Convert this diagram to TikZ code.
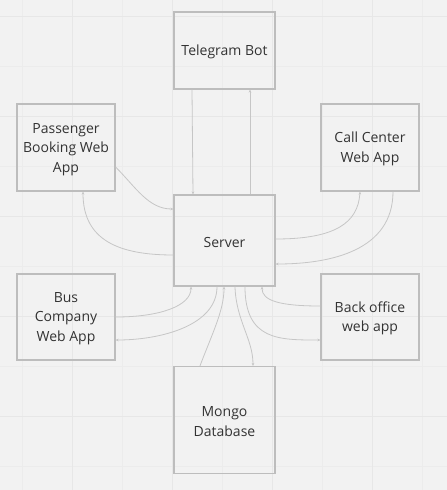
\documentclass[tikz,border=0pt]{standalone}
\usepackage{fontspec}
\setmainfont{Open Sans}
\usetikzlibrary{arrows.meta}
\definecolor{bgc}{HTML}{F2F2F2}
\definecolor{minorg}{HTML}{ECECEC}
\definecolor{majorg}{HTML}{E7E7E7}
\definecolor{boxc}{HTML}{BDBDBD}
\definecolor{linec}{HTML}{C6C6C6}
\definecolor{txt}{HTML}{333333}
\begin{document}
\begin{tikzpicture}[x=1pt,y=-1pt,
  box/.style={draw=boxc, line width=1.2pt, inner sep=0pt},
  lbl/.style={align=center, text=txt, font=\fontsize{14}{19.5}\selectfont, inner sep=0pt},
  conn/.style={draw=linec, line width=0.8pt, -{Stealth[length=3pt,width=2.6pt]}},
  gminor/.style={draw=minorg, line width=0.8pt},
  gmajor/.style={draw=majorg, line width=1pt}]
\fill[bgc] (0,0) rectangle (447,490);
\useasboundingbox (0,0) rectangle (447,490);
% grid
\foreach \x in {22,122,222,322,422} \draw[gminor] (\x,0) -- (\x,490);
\foreach \y in {66,166,266,366,466} \draw[gminor] (0,\y) -- (447,\y);
\foreach \x in {72,172,272,372} \draw[gmajor] (\x,0) -- (\x,490);
\foreach \y in {16,116,216,316,416} \draw[gmajor] (0,\y) -- (447,\y);
% nodes
\node[box, minimum width=101pt, minimum height=77pt] (t) at (224.5,50.5) {};
\node[box, minimum width=101pt, minimum height=91pt] (s) at (224.5,240.5) {};
\node[box, minimum width=98pt, minimum height=87pt] (p) at (66,147.5) {};
\node[box, minimum width=98pt, minimum height=87pt] (c) at (370,147.5) {};
\node[box, minimum width=98pt, minimum height=86pt] (b) at (66,317) {};
\node[box, minimum width=98pt, minimum height=86pt] (o) at (370,317) {};
\node[box, minimum width=101pt, minimum height=107pt] (m) at (224.5,420) {};
% labels
\node[lbl] (tl) at ([yshift=-1.5pt]t.center) {Telegram Bot};
\node[lbl] (sl) at ([yshift=-1.5pt]s.center) {Server};
\node[lbl] (pl) at ([yshift=-1.8pt]p.center) {Passenger\\Booking Web\\App};
\node[lbl] (cl) at ([yshift=-1.5pt]c.center) {Call Center\\Web App};
\node[lbl] (bl) at ([yshift=-1.5pt]b.center) {Bus\\Company\\Web App};
\node[lbl] (ol) at ([yshift=-1.5pt]o.center) {Back office\\web app};
\node[lbl] (ml) at ([yshift=-1.5pt]m.center) {Mongo\\Database};
% connectors
\draw[conn] ([xshift=-32.5pt]t.south) -- ([xshift=-31.5pt]s.north);
\draw[conn] ([xshift=25.5pt]s.north) -- ([xshift=25.5pt]t.south);
\draw[conn] ([yshift=-19.5pt]p.east) .. controls +(20,20) and +(-25,0) .. ([yshift=31.5pt]s.west);
\draw[conn] ([yshift=-14.5pt]s.west) .. controls +(-54,0) and +(0,49) .. ([xshift=17pt]p.south);
\draw[conn] ([yshift=1.5pt]s.east) .. controls +(60,0) and +(-2,31) .. ([xshift=-10pt]c.south);
\draw[conn] ([xshift=23pt]c.south) .. controls +(0,59) and +(55,0) .. ([yshift=-23.5pt]s.east);
\draw[conn] (b.east) .. controls +(45,0) and +(0,19) .. ([xshift=-33.5pt]s.south);
\draw[conn] ([xshift=-7.5pt]s.south) .. controls +(0,39) and +(45,0) .. ([yshift=-23pt]b.east);
\draw[conn] ([yshift=11pt]o.west) .. controls +(-41,0) and +(0,14) .. ([xshift=37.5pt]s.south);
\draw[conn] ([xshift=20.5pt]s.south) .. controls +(0,54) and +(-41,0) .. ([yshift=-23pt]o.west);
\draw[conn] ([xshift=-24.5pt]m.north) .. controls +(12,-32) and +(0,24) .. ([xshift=-0.5pt]s.south);
\draw[conn] ([xshift=10.5pt]s.south) .. controls +(1,34) and +(0,-27) .. ([xshift=28.5pt]m.north);
\end{tikzpicture}
\end{document}
